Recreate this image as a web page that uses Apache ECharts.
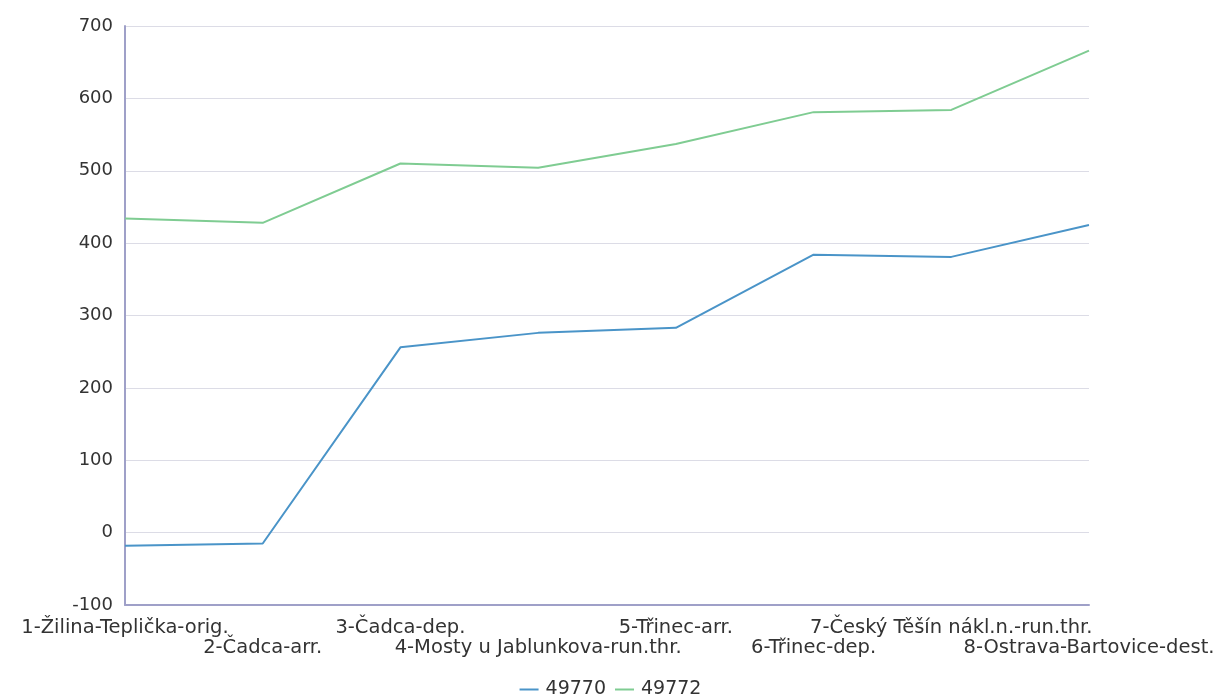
<!DOCTYPE html>
<html>
<head>
<meta charset="utf-8">
<script src="https://cdn.jsdelivr.net/npm/echarts@6/dist/echarts.min.js"></script>
<style>html,body{margin:0;padding:0;background:#fff}#c{width:1221px;height:698px}</style>
</head>
<body>
<div id="c"></div>
<script>
const categories = ['1-Žilina-Teplička-orig.', '2-Čadca-arr.', '3-Čadca-dep.', '4-Mosty u Jablunkova-run.thr.', '5-Třinec-arr.', '6-Třinec-dep.', '7-Český Těšín nákl.n.-run.thr.', '8-Ostrava-Bartovice-dest.'];
const seriesNames = ['49770', '49772'];
const s49770 = [-18, -15, 256, 276, 283, 384, 381, 425];
const s49772 = [434, 428, 510, 504, 537, 581, 584, 666];

const chart = echarts.init(document.getElementById('c'));
chart.setOption({
  animation: false,
  textStyle: { fontFamily: 'DejaVu Sans' },
  grid: { left: 125, right: 132, top: 26, bottom: 93, containLabel: false, outerBoundsMode: 'none' },
  legend: {
    top: 675, left: 'center',
    data: seriesNames,
    icon: 'rect', itemWidth: 19, itemHeight: 2, itemGap: 9,
    textStyle: { fontSize: 19, color: '#333', fontFamily: 'DejaVu Sans', padding: [0, 0, 0, 2] }
  },
  xAxis: {
    type: 'category', data: categories, boundaryGap: false,
    axisLine: { onZero: false, lineStyle: { color: '#9fa0c8', width: 2 } },
    axisTick: { show: false },
    axisLabel: {
      interval: 0, margin: 13, fontSize: 19.5, color: '#333', fontFamily: 'DejaVu Sans',
      lineHeight: 20,
      formatter: (v, i) => i % 2 === 1 ? '\n' + v : v
    },
    splitLine: { show: false }
  },
  yAxis: {
    type: 'value', min: -100, max: 700, interval: 100,
    axisLine: { show: true, lineStyle: { color: '#9fa0c8', width: 2 } },
    axisTick: { show: false },
    axisLabel: { fontSize: 18, color: '#333', margin: 12, fontFamily: 'DejaVu Sans' },
    splitLine: { lineStyle: { color: '#dcdce6', width: 1 } }
  },
  series: [
    { name: seriesNames[0], type: 'line', data: s49770, showSymbol: false, symbol: 'none',
      lineStyle: { color: '#4a94c8', width: 2 }, itemStyle: { color: '#4a94c8' } },
    { name: seriesNames[1], type: 'line', data: s49772, showSymbol: false, symbol: 'none',
      lineStyle: { color: '#7fcc92', width: 2 }, itemStyle: { color: '#7fcc92' } }
  ]
});
</script>
</body>
</html>
